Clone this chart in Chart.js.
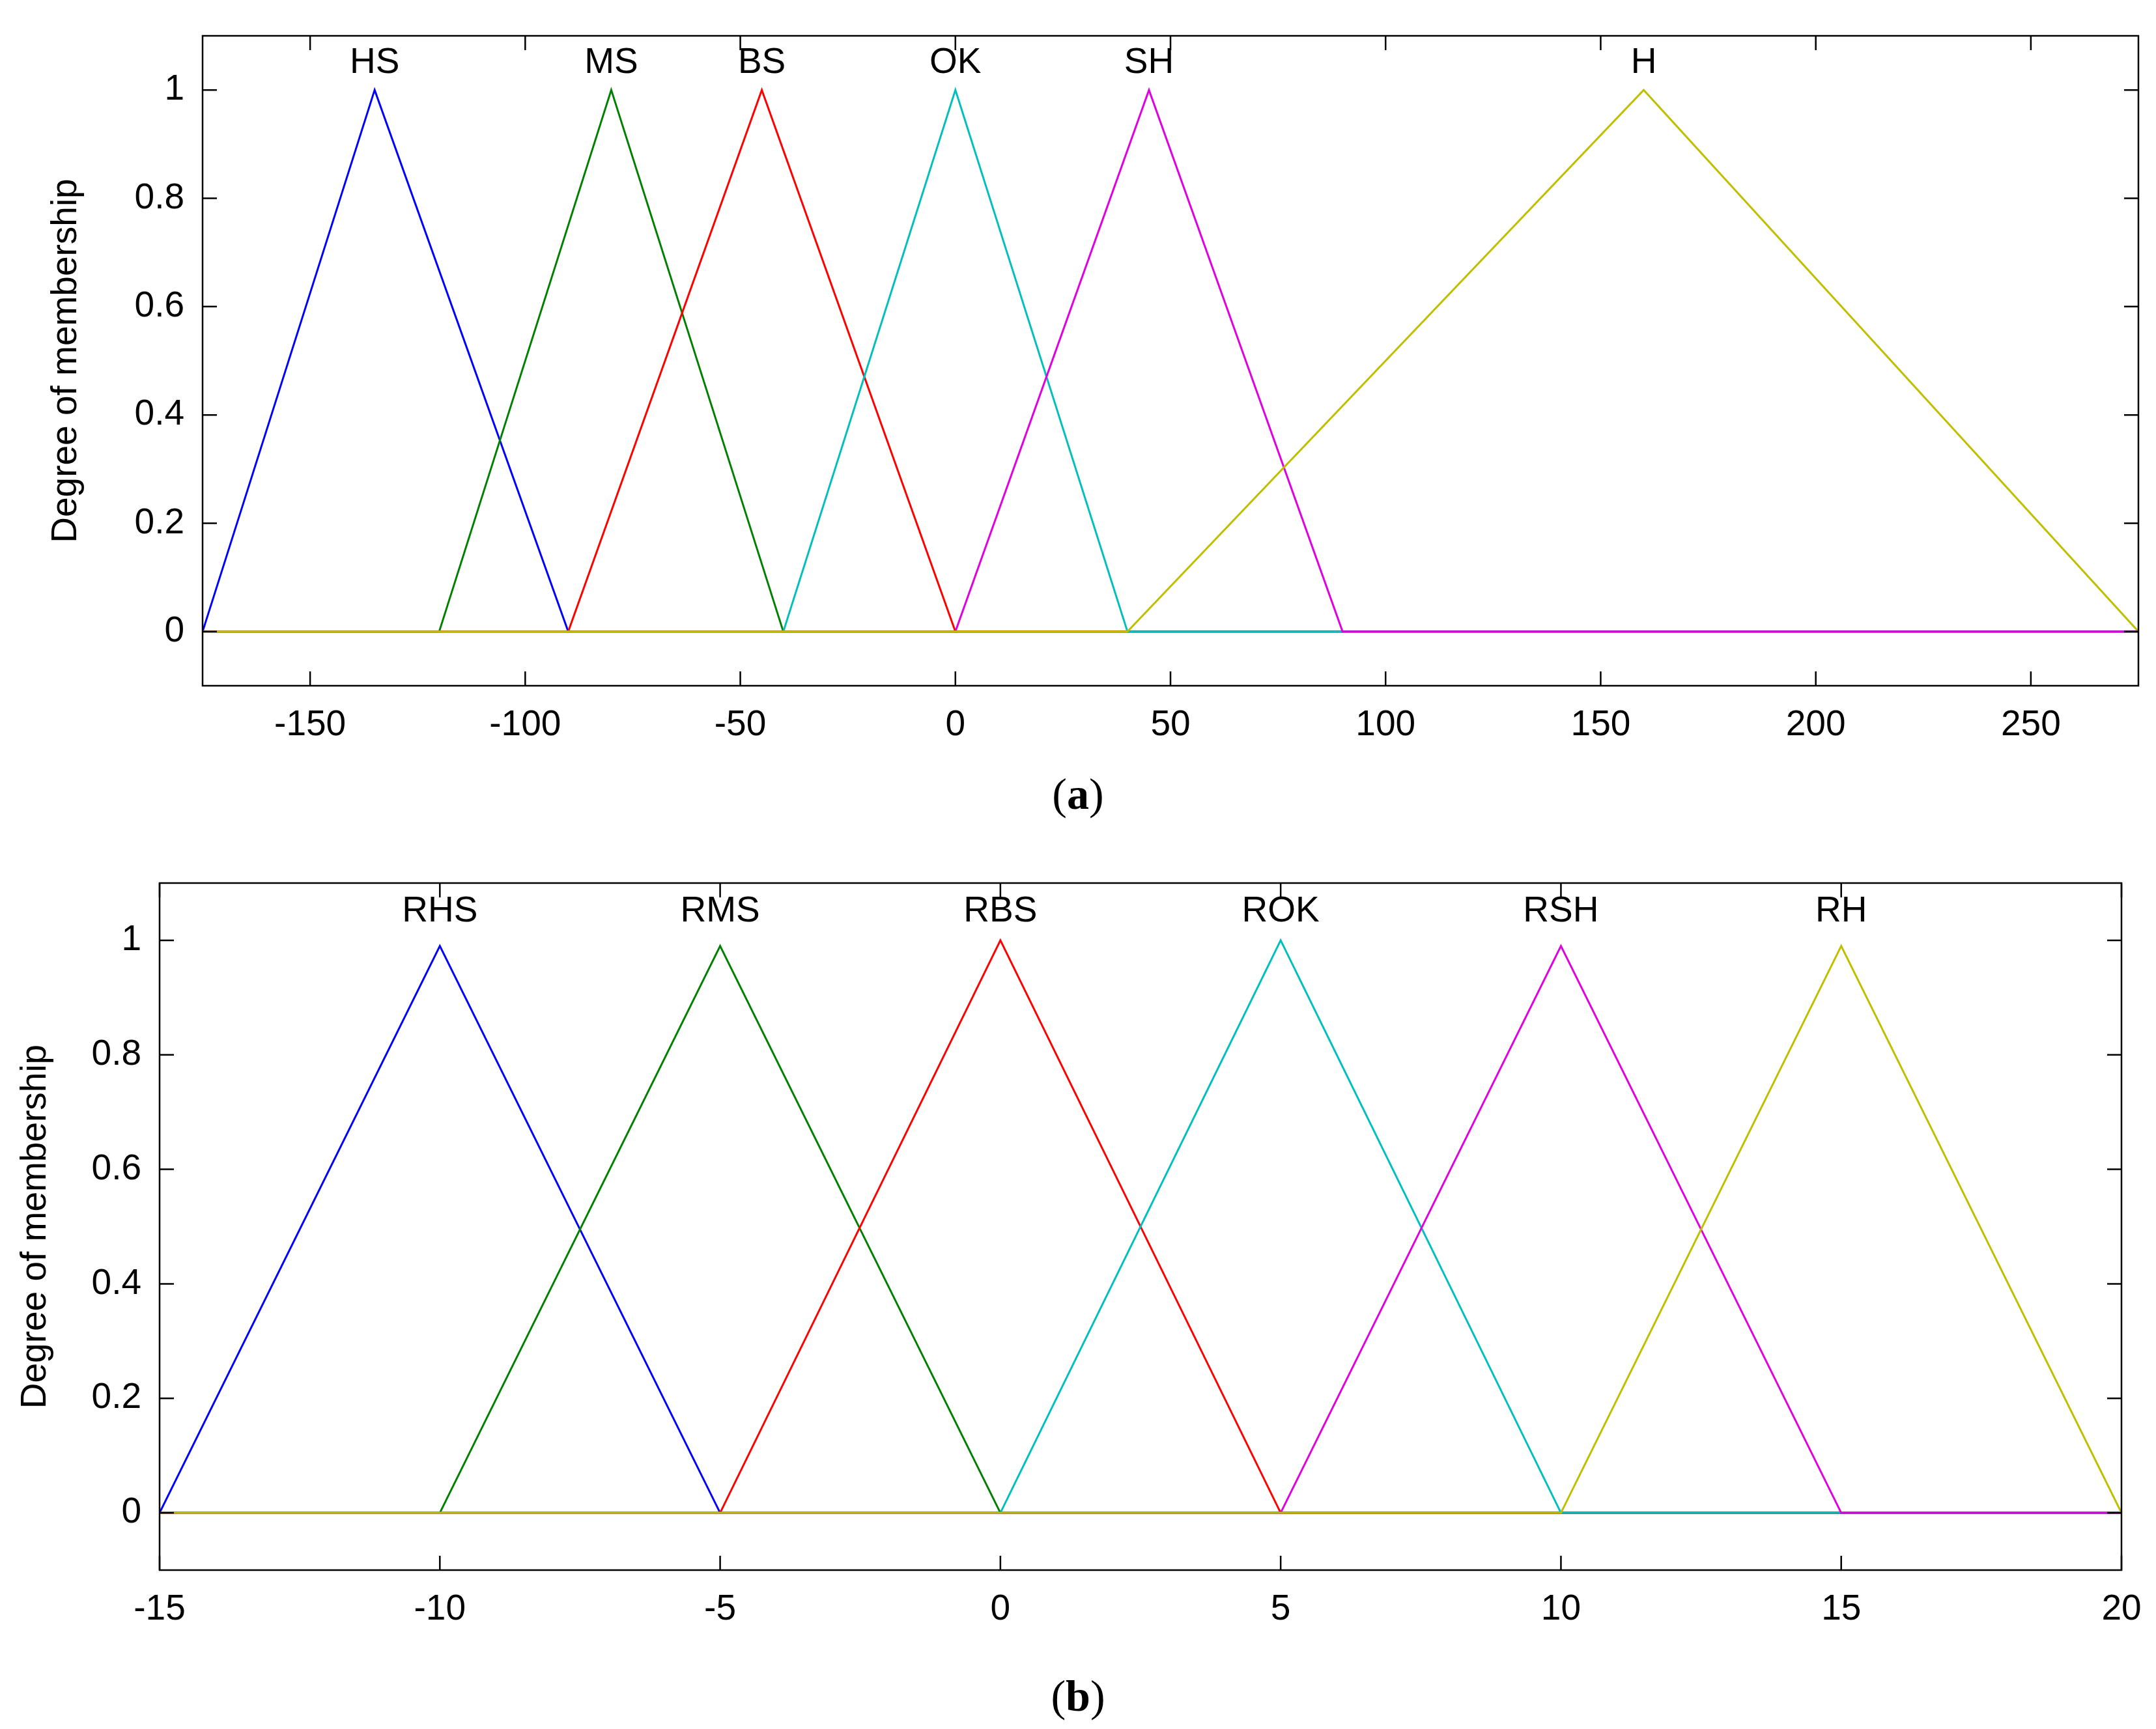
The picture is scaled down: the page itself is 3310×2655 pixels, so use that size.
<!DOCTYPE html>
<html>
<head>
<meta charset="utf-8">
<script src="https://cdn.jsdelivr.net/npm/chart.js@4"></script>
<style>
  body { margin: 0; width: 3310px; height: 2655px; background: #fff; position: relative; overflow: hidden; }
  .box { position: absolute; left: 0; width: 3310px; }
  .cap { position: absolute; left: 0; width: 3310px; text-align: center; font: 68px "Liberation Serif", serif; }
</style>
</head>
<body>
<div class="box" style="top:0;height:1180px"><canvas id="chartA"></canvas></div>
<div class="cap" style="top:1180px">(<b>a</b>)</div>
<div class="box" style="top:1300px;height:1240px"><canvas id="chartB"></canvas></div>
<div class="cap" style="top:2565px">(<b>b</b>)</div>
<script>
// panel (a)
const namesA = ['HS', 'MS', 'BS', 'OK', 'SH', 'H'];
const trianglesA = [[-175, -135, -90], [-120, -80, -40], [-90, -45, 0], [-40, 0, 40], [0, 45, 90], [40, 160, 275]];
const peaksA = [1, 1, 1, 1, 1, 1];
const ticksXA = [-150, -100, -50, 0, 50, 100, 150, 200, 250];
const rangeA = [-175, 275];

// panel (b)
const namesB = ['RHS', 'RMS', 'RBS', 'ROK', 'RSH', 'RH'];
const trianglesB = [[-15, -10, -5], [-10, -5, 0], [-5, 0, 5], [0, 5, 10], [5, 10, 15], [10, 15, 20]];
const peaksB = [0.99, 0.99, 1, 1, 0.99, 0.99];
const ticksXB = [-15, -10, -5, 0, 5, 10, 15, 20];
const rangeB = [-15, 20];

const ticksY = [0, 0.2, 0.4, 0.6, 0.8, 1];
const colors = ['#0000ff', '#008000', '#ff0000', '#00bfbf', '#e000e0', '#bfbf00'];
const FONT = '"Liberation Sans", Arial, sans-serif';

const frame = {
  id: 'frame',
  afterDatasetsDraw(chart, args, opts) {
    const { ctx, chartArea: a, scales } = chart;
    ctx.save();
    ctx.strokeStyle = '#000';
    ctx.lineWidth = 2.5;
    ctx.strokeRect(a.left, a.top, a.right - a.left, a.bottom - a.top);
    const t = 22;
    ctx.beginPath();
    opts.xticks.forEach(v => {
      const x = scales.x.getPixelForValue(v);
      ctx.moveTo(x, a.bottom); ctx.lineTo(x, a.bottom - t);
      ctx.moveTo(x, a.top); ctx.lineTo(x, a.top + t);
    });
    ticksY.forEach(v => {
      const y = scales.y.getPixelForValue(v);
      ctx.moveTo(a.left, y); ctx.lineTo(a.left + t, y);
      ctx.moveTo(a.right, y); ctx.lineTo(a.right - t, y);
    });
    ctx.stroke();
    ctx.fillStyle = '#000';
    ctx.font = '55px ' + FONT;
    ctx.textAlign = 'center';
    ctx.textBaseline = 'middle';
    opts.names.forEach((n, i) => {
      ctx.fillText(n, scales.x.getPixelForValue(opts.tri[i][1]), scales.y.getPixelForValue(1.05));
    });
    ctx.restore();
  }
};

function makeChart(id, names, tri, peaks, xt, range, pad, yWidth, xHeight) {
  const datasets = names.map((n, i) => ({
    label: n,
    data: [
      { x: range[0], y: 0 }, { x: tri[i][0], y: 0 }, { x: tri[i][1], y: peaks[i] },
      { x: tri[i][2], y: 0 }, { x: range[1], y: 0 }
    ],
    borderColor: colors[i],
    borderWidth: 3,
    pointRadius: 0,
    tension: 0,
    order: -i // later series on top, as in the original
  }));
  new Chart(document.getElementById(id), {
    type: 'line',
    data: { datasets },
    plugins: [frame],
    options: {
      responsive: true,
      maintainAspectRatio: false,
      animation: false,
      layout: { padding: pad },
      plugins: {
        legend: { display: false },
        tooltip: { enabled: false },
        frame: { names, tri, xticks: xt }
      },
      scales: {
        x: {
          type: 'linear', min: range[0], max: range[1],
          grid: { display: false }, border: { display: false },
          afterBuildTicks: s => { s.ticks = xt.map(v => ({ value: v })); },
          afterFit: s => { s.height = xHeight; },
          ticks: { color: '#000', font: { size: 55, family: FONT }, maxRotation: 0, padding: 20 }
        },
        y: {
          min: -0.1, max: 1.1,
          grid: { display: false }, border: { display: false },
          afterBuildTicks: s => { s.ticks = ticksY.map(v => ({ value: v })); },
          afterFit: s => { s.width = yWidth; },
          ticks: { color: '#000', font: { size: 55, family: FONT }, padding: 20, callback: v => String(v) },
          title: { display: true, text: 'Degree of membership', color: '#000', font: { size: 55, family: FONT } }
        }
      }
    }
  });
}

makeChart('chartA', namesA, trianglesA, peaksA, ticksXA, rangeA, { top: 55, right: 27, left: 65 }, 246, 127);
makeChart('chartB', namesB, trianglesB, peaksB, ticksXB, rangeB, { top: 56, right: 53, left: 18 }, 227, 129);
</script>
</body>
</html>
